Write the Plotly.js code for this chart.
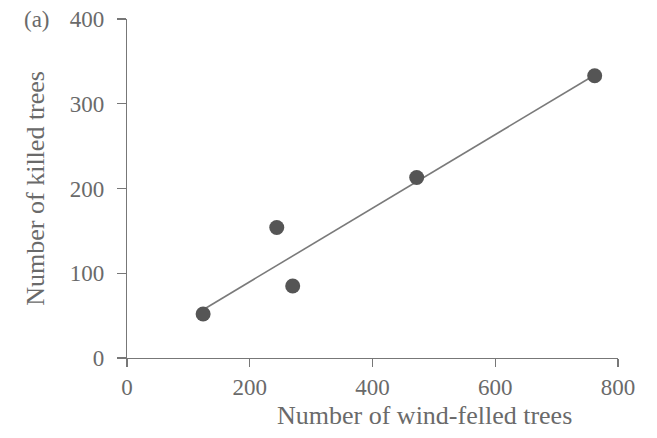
<!DOCTYPE html>
<html>
<head>
<meta charset="utf-8">
<script src="https://cdn.plot.ly/plotly-3.0.1.min.js"></script>
<style>html,body{margin:0;padding:0;background:#fff;}#chart{width:657px;height:438px;}</style>
</head>
<body>
<div id="chart"></div>
<script>
// Data
const windFelled = [124, 244, 270, 472, 762];
const killed = [52, 154, 85, 213, 333];
const fitX = [124, 762];
const fitY = [57, 334];
const xTicks = [0, 200, 400, 600, 800];
const yTicks = [0, 100, 200, 300, 400];
const xTitle = "Number of wind-felled trees";
const yTitle = "Number of killed trees";
const panelLabel = "(a)";

const FONT = "Liberation Serif, Times New Roman, serif";
const TXT = "#6a6a6a";

const traces = [
  {x: fitX, y: fitY, mode: "lines", type: "scatter",
   line: {color: "#7a7a7a", width: 1.6}, hoverinfo: "skip", showlegend: false},
  {x: windFelled, y: killed, mode: "markers", type: "scatter",
   marker: {color: "#555555", size: 15, line: {width: 0}}, cliponaxis: false, showlegend: false}
];

const layout = {
  width: 657, height: 438,
  margin: {l: 127, r: 39, t: 19, b: 80},
  paper_bgcolor: "#ffffff", plot_bgcolor: "#ffffff",
  font: {family: FONT, color: TXT, size: 23},
  showlegend: false,
  xaxis: {
    range: [0, 800], tickvals: xTicks, ticktext: xTicks.map(String),
    showgrid: false, zeroline: false, showline: true, linecolor: "#777", linewidth: 1.2,
    ticks: "outside", ticklen: 8, tickwidth: 1.2, tickcolor: "#777",
    tickfont: {family: FONT, color: TXT, size: 23}
  },
  yaxis: {
    range: [0, 400], tickvals: yTicks, ticktext: yTicks.map(String),
    showgrid: false, zeroline: false, showline: true, linecolor: "#777", linewidth: 1.2,
    ticks: "outside", ticklen: 9, tickwidth: 1.2, tickcolor: "#777",
    ticklabelstandoff: 8,
    tickfont: {family: FONT, color: TXT, size: 23}
  },
  annotations: [
    {text: panelLabel, xref: "paper", yref: "paper", x: -0.214, y: 1.0,
     xanchor: "left", yanchor: "middle", showarrow: false,
     font: {family: FONT, color: TXT, size: 23}},
    {text: xTitle, xref: "paper", yref: "paper", x: 0.605, y: -0.171,
     xanchor: "center", yanchor: "middle", showarrow: false,
     font: {family: FONT, color: TXT, size: 26}},
    {text: yTitle, xref: "paper", yref: "paper", x: -0.187, y: 0.5, textangle: -90,
     xanchor: "center", yanchor: "middle", showarrow: false,
     font: {family: FONT, color: TXT, size: 26}}
  ]
};

Plotly.newPlot("chart", traces, layout, {displayModeBar: false, staticPlot: true});
</script>
</body>
</html>
